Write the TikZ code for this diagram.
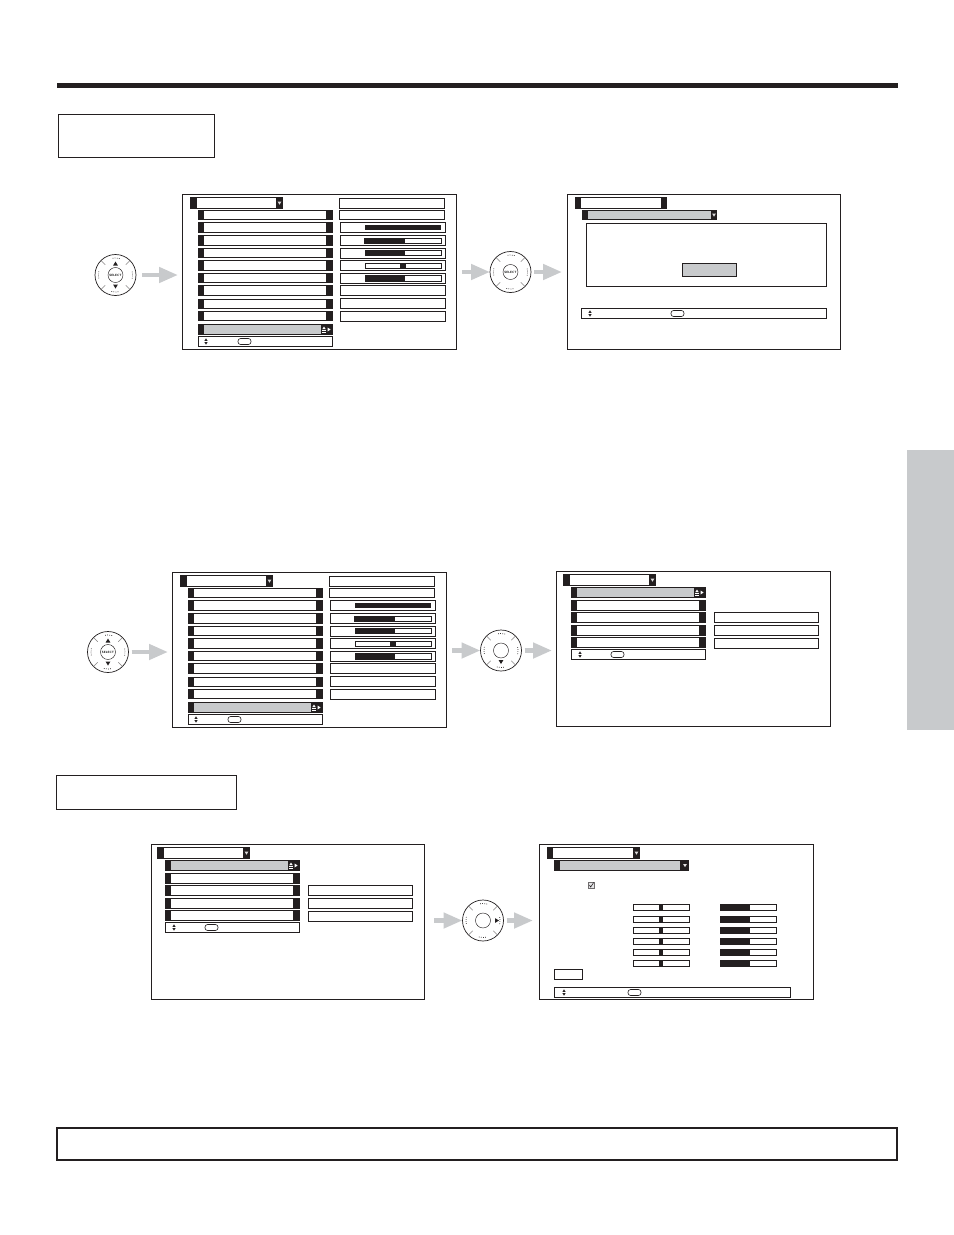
\documentclass[tikz,border=0pt]{standalone}
\usetikzlibrary{arrows.meta,calc}
\definecolor{ink}{HTML}{231F20}
\definecolor{pale}{HTML}{C8CACC}
\tikzset{
  frame/.style={draw=ink,line width=1.1bp,fill=white,rectangle,inner sep=0pt,outer sep=0pt,anchor=north west},
  outl/.style={draw=ink,line width=1.1bp,fill=white},
  thinl/.style={draw=ink,line width=.6bp,fill=white},
  ga/.style={draw=pale,line width=4.5bp,-{Triangle[length=19bp,width=15bp]}},
  dialo/.style={circle,draw=ink,line width=.7bp,fill=white,minimum size=41bp,inner sep=0pt,outer sep=0pt},
  dialc/.style={circle,draw=ink,line width=.45bp,fill=white,minimum size=15bp,inner sep=0pt,outer sep=0pt,font=\fontsize{3.1}{3.5}\selectfont\sffamily\bfseries},
  headbox/.style={line width=2bp,draw=ink}
}
% black-ended row with white inside
\newcommand\mRow[3]{\fill[ink] (#1,#2) rectangle ({#1+135},#3);\fill[white] ({#1+6},{#2+1}) rectangle ({#1+128},{#3-1});}
% highlighted row: white marks on the right
\newcommand\mSel[3]{\fill[ink] (#1,#2) rectangle ({#1+135},#3);\fill[pale] ({#1+6},{#2+1}) rectangle ({#1+123},{#3-1});
  \fill[white] ({#1+126},{#2+2.6}) -- ({#1+124.2},{#2+5.2}) -- ({#1+127.8},{#2+5.2}) -- cycle;
  \fill[white] ({#1+124.2},{#2+6.2}) rectangle ({#1+127.8},{#2+7});
  \fill[white] ({#1+124.2},{#2+8}) rectangle ({#1+127.8},{#2+8.7});
  \fill[white] ({#1+129.6},{#2+3.5}) -- ({#1+132.6},{#2+5.5}) -- ({#1+129.6},{#2+7.5}) -- cycle;}
% small pale triangle on a black ground
\newcommand\mTri[2]{\fill[white!85!ink] ($(#1,#2)+(-1.9,-1.5)$) -- ++(3.8,0) -- ++(-1.9,3.2) -- cycle;}
% title bar
\newcommand\mTitle[2]{\fill[ink] (#1,#2) rectangle ({#1+93},{#2+12});\fill[white] ({#1+6.5},{#2+1}) rectangle ({#1+86},{#2+11});\mTri{{#1+89.5}}{{#2+6}}}
% hint arrows and pill
\newcommand\mUpDn[2]{\fill[ink] ($(#1,#2)+(0,-3.2)$) -- ++(1.6,2.6) -- ++(-3.2,0) -- cycle;\fill[ink] ($(#1,#2)+(0,3.2)$) -- ++(1.6,-2.6) -- ++(-3.2,0) -- cycle;}
\newcommand\mPill[2]{\draw[draw=ink,line width=.6bp,fill=white,rounded corners=2.6bp] (#1,{#2-3}) rectangle ({#1+13},{#2+3});}
\newcommand\mBox[4]{\path[outl] (#1,#2) rectangle (#3,#4);}
\newcommand\mBarL[4]{\path[thinl,line width=.9bp] (#1,#2) rectangle (#3,#4);\fill[ink] (#1,#2) rectangle (405,#4);}
% first large menu
\newcommand\menuA[3]{%
\begin{scope}[shift={(#2,#3)}]
\node[frame,minimum width=274bp,minimum height=155bp] (#1) at (182.5,194.5) {};
\mTitle{190}{197}
\foreach \ya/\yb in {210/220.3,222/233,235/246,248/258,260/271,273/283,285/296,299/309,311/321}{\mRow{198}{\ya}{\yb}}
\mSel{198}{324}{335}
\mBox{198.5}{336.5}{332.5}{346.5}
\mUpDn{206}{341.5}\mPill{238}{341.5}
\mBox{339.5}{198.5}{444.5}{208.5}
\mBox{339.5}{210.5}{444.5}{219.5}
\foreach \ya/\yb in {222.5/232.5,235.5/245.5,248.5/258.5,260.5/270.5,273.5/283.5,285.5/295.5,298.5/308.5,311.5/321.5}{\mBox{340.5}{\ya}{445.5}{\yb}}
\fill[ink] (365,225) rectangle (441,230);
\mBarL{364.5}{238.5}{441.5}{243.5}
\mBarL{365.5}{250.5}{441.5}{255.5}
\path[thinl,line width=.9bp] (365.5,263) rectangle (441.5,268.5);\fill[ink] (400,263) rectangle (406,268.5);
\mBarL{365.5}{275.5}{441.5}{281}
\end{scope}}
% second short menu: name, shift x, shift y, frame left, frame width
\newcommand\menuB[5]{%
\begin{scope}[shift={(#2,#3)}]
\node[frame,minimum width=#5bp,minimum height=155bp] (#1) at (#4,571.5) {};
\mTitle{563}{574}
\mSel{571}{587}{598}
\foreach \ya/\yb in {600/611,612/623,625/636,637/648}{\mRow{571}{\ya}{\yb}}
\mBox{571.5}{649.5}{705.5}{659.5}
\mUpDn{580}{654.5}\mPill{611}{654.5}
\mBox{714.5}{612.5}{818.5}{622.5}
\mBox{714.5}{625.5}{818.5}{635.5}
\mBox{714.5}{638.5}{818.5}{648.5}
\end{scope}}
% control dial
\newcommand\dial[4]{%
\node[dialo] (#1) at (#2,#3) {};
\foreach \t in {45,135,225,315}{\draw[draw=ink!55,line width=.5bp] ($(#1)+(\t:14.5bp)$) -- ($(#1)+(\t:20bp)$);}
\foreach \t in {90,270}{\draw[ink,line width=.7bp,dash pattern=on .7bp off 1.4bp] ($(#1)+(\t-14:17bp)$) arc[start angle=\t-14,end angle=\t+14,radius=17bp];}
\foreach \t in {0,180}{\draw[ink,line width=.7bp,dash pattern=on .7bp off 1.4bp] ($(#1)+(\t-12:17bp)$) arc[start angle=\t-12,end angle=\t+12,radius=17bp];}
\node[dialc] (#1c) at (#2,#3) {#4};}
\newcommand\dUp[1]{\fill[ink] ($(#1)+(0,13.5bp)$) -- ++(2.4bp,-4bp) -- ++(-4.8bp,0) -- cycle;}
\newcommand\dDn[1]{\fill[ink] ($(#1)+(0,-13.5bp)$) -- ++(2.4bp,4bp) -- ++(-4.8bp,0) -- cycle;}
\begin{document}
\begin{tikzpicture}[x=1bp,y=-1bp]
\useasboundingbox (0,0) rectangle (954,1235);
\fill[white] (0,0) rectangle (954,1235);
% page furniture
\fill[ink] (57,83) rectangle (898,88);
\node[frame,line width=1bp,minimum width=156.5bp,minimum height=43bp] (hdA) at (58,114) {};
\node[frame,line width=1bp,minimum width=180.5bp,minimum height=34.5bp] (hdB) at (56,775) {};
\node[frame,headbox,minimum width=840bp,minimum height=32bp] (note) at (57,1128) {};
\fill[pale] (907,450) rectangle (954,730);
% row 1
\menuA{s1}{0}{0}
\node[frame,minimum width=273bp,minimum height=155bp] (s2) at (567.5,194.5) {};
\fill[ink] (575,197) rectangle (667,209);\fill[white] (581,198) rectangle (661,208);
\fill[ink] (582,210) rectangle (717,220);\fill[pale] (588,211) rectangle (711,219);\mTri{714}{215}
\mBox{586.5}{223.5}{826.5}{286.5}
\path[draw=ink,line width=1bp,fill=pale] (682.5,263.5) rectangle (736.5,276.5);
\mBox{581.5}{308.5}{826.5}{318.5}
\mUpDn{590}{313.5}\mPill{671}{313.5}
\dial{d1}{115.5}{275}{SELECT}\dUp{d1}\dDn{d1}
\dial{d2}{510.5}{272}{SELECT}
\draw[ga,shorten <=6bp,shorten >=4.5bp] (d1.east) -- (d1.east -| s1.west);
\draw[ga,shorten <=5.5bp] (d2.west -| s1.east) -- (d2.west);
\draw[ga,shorten <=3bp,shorten >=5.5bp] (d2.east) -- (d2.east -| s2.west);
% row 2
\menuA{s3}{-10}{378}
\menuB{s4}{0}{0}{556.5}{274}
\dial{d3}{108}{652}{SELECT}\dUp{d3}\dDn{d3}
\dial{d4}{501}{650.5}{}\dDn{d4}
\draw[ga,shorten <=3bp,shorten >=4.5bp] (d3.east) -- (d3.east -| s3.west);
\draw[ga,shorten <=5.5bp] (d4.west -| s3.east) -- (d4.west);
\draw[ga,shorten <=3bp,shorten >=4.5bp] (d4.east) -- (d4.east -| s4.west);
% row 3
\menuB{s5}{-406}{273}{557.5}{273}
\node[frame,minimum width=274bp,minimum height=155bp] (s6) at (539.5,844.5) {};
\fill[ink] (547,847) rectangle (640,859);\fill[white] (553,848) rectangle (633,858);\mTri{636.5}{853}
\fill[ink] (554,860) rectangle (689,871);\fill[pale] (560,861) rectangle (680,870);\mTri{685}{865.5}
\draw[ink!65,line width=.5bp,fill=pale!50] (588.5,882.5) rectangle (594,888);
\draw[ink,line width=.6bp] (589.5,885) -- (590.7,887) -- (593.7,882.5);
\foreach \ya/\yb in {904.5/910.5,916.5/922,927.5/933.5,938.5/944.5,949.5/955.5,960.5/966.5}{
  \path[thinl,line width=.9bp] (633.5,\ya) rectangle (689.5,\yb);\fill[ink] (659,\ya) rectangle (663,\yb);
  \path[thinl,line width=.9bp] (720.5,\ya) rectangle (776.5,\yb);\fill[ink] (720.5,\ya) rectangle (750,\yb);}
\mBox{554.5}{969.5}{582.5}{979.5}
\mBox{554.5}{987.5}{790.5}{997.5}
\mUpDn{564}{992.5}\mPill{628}{992.5}
\dial{d5}{483}{920.5}{}
\fill[ink] ($(d5)+(16bp,0)$) -- ++(-4bp,2.4bp) -- ++(0,-4.8bp) -- cycle;
\draw[ga,shorten <=9.5bp] (d5.west -| s5.east) -- (d5.west);
\draw[ga,shorten <=3bp,shorten >=6.5bp] (d5.east) -- (d5.east -| s6.west);
\end{tikzpicture}
\end{document}
